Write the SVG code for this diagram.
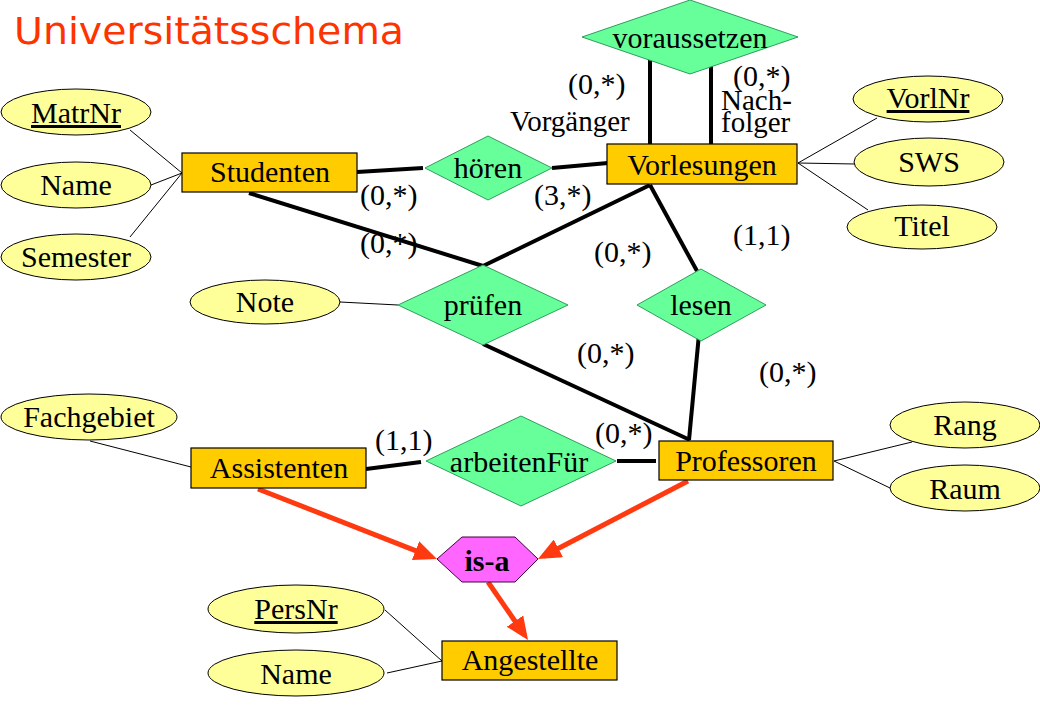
<svg xmlns="http://www.w3.org/2000/svg" width="1040" height="720" viewBox="0 0 1040 720">
<style>
.ent{fill:#ffcc00;stroke:#000;stroke-width:1.2}
.att{fill:#ffff99;stroke:#000;stroke-width:1}
.rel{fill:#66ff99;stroke:#2e9e5e;stroke-width:1}
.isa{fill:#ff66ff;stroke:#440044;stroke-width:1}
text{font-family:"Liberation Serif","Times New Roman",serif;font-size:30px;fill:#000}
.c{text-anchor:middle}
.u{text-decoration:underline}
.thin{stroke:#000;stroke-width:1;fill:none}
.thick{stroke:#000;stroke-width:4;fill:none}
.red{stroke:#ff3a10;stroke-width:5;fill:none;marker-end:url(#ah)}
.lbl{font-size:30px}
.role{font-size:29px}
</style>
<defs>
<marker id="ah" markerUnits="userSpaceOnUse" markerWidth="24" markerHeight="20" refX="17" refY="10" orient="auto">
<path d="M0,0 L23,10 L0,20 Z" fill="#ff3a10"/>
</marker>
</defs>
<rect width="1040" height="720" fill="#fff"/>
<text x="14" y="44" style="font-family:'DejaVu Sans',sans-serif;font-size:38px;fill:#ff3300" textLength="390" lengthAdjust="spacingAndGlyphs">Universitätsschema</text>

<g id="connectors">
<line class="thin" x1="130" y1="130" x2="182" y2="173"/>
<line class="thin" x1="151" y1="185" x2="182" y2="173"/>
<line class="thin" x1="130" y1="237" x2="182" y2="173"/>
<line class="thin" x1="798" y1="163" x2="877" y2="118"/>
<line class="thin" x1="798" y1="163" x2="855" y2="164"/>
<line class="thin" x1="798" y1="163" x2="868" y2="210"/>
<line class="thin" x1="340" y1="302" x2="398" y2="305"/>
<line class="thin" x1="90" y1="441" x2="191" y2="467"/>
<line class="thin" x1="834" y1="461" x2="912" y2="442"/>
<line class="thin" x1="834" y1="461" x2="890" y2="488"/>
<line class="thin" x1="385" y1="610" x2="442" y2="661"/>
<line class="thin" x1="387" y1="673" x2="442" y2="661"/>

<line class="thick" x1="357" y1="172" x2="423" y2="168"/>
<line class="thick" x1="552" y1="168" x2="608" y2="163"/>
<line class="thick" x1="650" y1="56" x2="650" y2="146"/>
<line class="thick" x1="711" y1="64" x2="711" y2="146"/>
<line class="thick" x1="249" y1="193" x2="483" y2="266"/>
<line class="thick" x1="650" y1="185" x2="483" y2="266"/>
<line class="thick" x1="650" y1="185" x2="697" y2="271"/>
<line class="thick" x1="483" y1="344" x2="690" y2="440"/>
<line class="thick" x1="699" y1="334" x2="689" y2="440"/>
<line class="thick" x1="366" y1="469" x2="421" y2="462"/>
<line class="thick" x1="617" y1="461" x2="656" y2="461"/>

<line class="red" x1="258" y1="489" x2="431.4" y2="556.8"/>
<line class="red" x1="688" y1="481" x2="543.3" y2="556.2"/>
<line class="red" x1="488" y1="582" x2="524.6" y2="635.1"/>
</g>

<g id="studenten"><rect class="ent" x="182" y="153" width="175" height="39"/><text class="c" x="270" y="182">Studenten</text></g>
<g id="vorlesungen"><rect class="ent" x="607" y="144" width="190" height="40"/><text class="c" x="702" y="175">Vorlesungen</text></g>
<g id="assistenten"><rect class="ent" x="191" y="448" width="175" height="40"/><text class="c" x="279" y="478">Assistenten</text></g>
<g id="professoren"><rect class="ent" x="659" y="441" width="174" height="39"/><text class="c" x="746" y="471">Professoren</text></g>
<g id="angestellte"><rect class="ent" x="442" y="641" width="175" height="39"/><text class="c" x="530" y="670">Angestellte</text></g>

<g id="voraussetzen"><polygon class="rel" points="582,37 690,0 798,37 690,74"/><text class="c" x="690" y="48">voraussetzen</text></g>
<g id="hoeren"><polygon class="rel" points="425,168 488,136 552,168 488,200"/><text class="c" x="488" y="178">hören</text></g>
<g id="pruefen"><polygon class="rel" points="398,305 483,265 568,305 483,345"/><text class="c" x="483" y="315">prüfen</text></g>
<g id="lesen"><polygon class="rel" points="637,305 701,269 766,305 701,341"/><text class="c" x="701" y="315">lesen</text></g>
<g id="arbeitenFuer"><polygon class="rel" points="426,461 521,416 616,461 521,506"/><text class="c" x="519" y="472">arbeitenFür</text></g>
<g id="isa"><polygon class="isa" points="437,559 462,537 515,537 538,559 515,582 462,582"/><text class="c" x="487" y="571" style="font-weight:bold">is-a</text></g>

<g id="att-matrnr"><ellipse class="att" cx="76" cy="112" rx="75" ry="23"/><text class="c u" x="76" y="123">MatrNr</text></g>
<g id="att-name-s"><ellipse class="att" cx="76" cy="185" rx="75" ry="23"/><text class="c" x="76" y="195">Name</text></g>
<g id="att-semester"><ellipse class="att" cx="76" cy="257" rx="75" ry="23"/><text class="c" x="76" y="267">Semester</text></g>
<g id="att-vorlnr"><ellipse class="att" cx="928" cy="99" rx="75" ry="23"/><text class="c u" x="928" y="108">VorlNr</text></g>
<g id="att-sws"><ellipse class="att" cx="929" cy="162" rx="75" ry="24"/><text class="c" x="929" y="172">SWS</text></g>
<g id="att-titel"><ellipse class="att" cx="922" cy="227" rx="75" ry="22"/><text class="c" x="922" y="236">Titel</text></g>
<g id="att-note"><ellipse class="att" cx="265" cy="302" rx="75" ry="22"/><text class="c" x="265" y="312">Note</text></g>
<g id="att-fachgebiet"><ellipse class="att" cx="89" cy="417" rx="88" ry="23"/><text class="c" x="89" y="427">Fachgebiet</text></g>
<g id="att-rang"><ellipse class="att" cx="965" cy="425" rx="75" ry="23"/><text class="c" x="965" y="435">Rang</text></g>
<g id="att-raum"><ellipse class="att" cx="965" cy="488" rx="75" ry="23"/><text class="c" x="965" y="499">Raum</text></g>
<g id="att-persnr"><ellipse class="att" cx="296" cy="609" rx="88" ry="24"/><text class="c u" x="296" y="619">PersNr</text></g>
<g id="att-name-a"><ellipse class="att" cx="296" cy="673" rx="88" ry="23"/><text class="c" x="296" y="684">Name</text></g>

<g id="labels">
<text class="lbl" x="568" y="94">(0,*)</text>
<text class="role" x="510" y="131">Vorgänger</text>
<text class="lbl" x="733" y="86">(0,*)</text>
<text class="role" x="721" y="110">Nach-</text>
<text class="role" x="721" y="132">folger</text>
<text class="lbl" x="360" y="205">(0,*)</text>
<text class="lbl" x="534" y="205">(3,*)</text>
<text class="lbl" x="360" y="253">(0,*)</text>
<text class="lbl" x="594" y="262">(0,*)</text>
<text class="lbl" x="733" y="245">(1,1)</text>
<text class="lbl" x="577" y="363">(0,*)</text>
<text class="lbl" x="759" y="382">(0,*)</text>
<text class="lbl" x="375" y="450">(1,1)</text>
<text class="lbl" x="595" y="443">(0,*)</text>
</g>
</svg>
